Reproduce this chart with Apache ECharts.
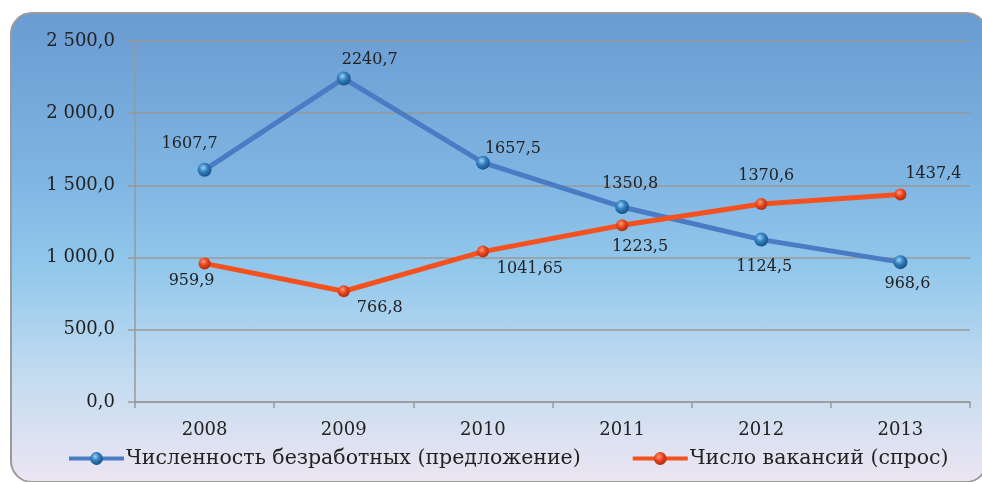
<!DOCTYPE html>
<html>
<head>
<meta charset="utf-8">
<script src="https://cdn.jsdelivr.net/npm/echarts@6/dist/echarts.min.js"></script>
<style>
  html, body { margin: 0; padding: 0; background: #fff; }
  #panel {
    position: absolute; left: 10px; top: 12px; width: 974px; height: 467px;
    border: 2px solid #9a9a9a; border-radius: 22px;
    background: linear-gradient(to bottom, #6a9bd2 0%, #7fb5e2 35%, #93c8ec 55%, #c4dcf0 78%, #ece5f2 100%);
  }
  #chart { position: absolute; left: 0; top: 0; width: 982px; height: 482px; }
</style>
</head>
<body>
<div id="panel"></div>
<div id="chart"></div>
<script>
const years = ['2008', '2009', '2010', '2011', '2012', '2013'];
const unemployed = [1607.7, 2240.7, 1657.5, 1350.8, 1124.5, 968.6];
const vacancies = [959.9, 766.8, 1041.65, 1223.5, 1370.6, 1437.4];
const unemployedName = 'Численность безработных (предложение)';
const vacanciesName = 'Число вакансий (спрос)';
// label offsets from the point (px)
const unemployedOffsets = [[-15, -26], [26, -19], [30, -14], [8, -23], [3, 27], [7, 22]];
const vacanciesOffsets = [[-13, 17], [36, 17], [47, 17], [18, 22], [5, -28], [33, -21]];

const fontFamily = '"DejaVu Serif", serif';

function commaNum(v) {
  return String(v).replace('.', ',');
}
function axisNum(v) {
  const s = Math.round(v).toString().replace(/\B(?=(\d{3})+(?!\d))/g, ' ');
  return s + ',0';
}

function withLabels(values, offsets) {
  return values.map((v, i) => ({
    value: v,
    label: { offset: offsets[i] }
  }));
}

const chart = echarts.init(document.getElementById('chart'));
chart.setOption({
  backgroundColor: 'transparent',
  animation: false,
  textStyle: { fontFamily: fontFamily, color: '#222' },
  grid: { left: 135, right: 12, top: 41, bottom: 80 },
  legend: {
    bottom: 8,
    left: 62,
    itemGap: 50,
    itemWidth: 55,
    itemHeight: 16,
    lineStyle: { width: 4 },
    textStyle: { fontFamily: fontFamily, fontSize: 20.5, color: '#222', padding: [0, 0, 0, -3] },
    data: [unemployedName, vacanciesName]
  },
  xAxis: {
    type: 'category',
    data: years,
    boundaryGap: true,
    axisLine: { lineStyle: { color: '#999', width: 1.5 } },
    axisTick: { show: true, length: 6, lineStyle: { color: '#999', width: 1.5 } },
    axisLabel: { fontFamily: fontFamily, fontSize: 18, color: '#222', margin: 19 }
  },
  yAxis: {
    type: 'value',
    min: 0,
    max: 2500,
    interval: 500,
    axisLine: { show: true, lineStyle: { color: '#999', width: 1.5 } },
    axisTick: { show: true, length: 7, lineStyle: { color: '#999', width: 1.5 } },
    splitLine: { lineStyle: { color: '#999', width: 1.5 } },
    axisLabel: { fontFamily: fontFamily, fontSize: 18, color: '#222', margin: 20, formatter: axisNum }
  },
  series: [
    {
      name: unemployedName,
      type: 'line',
      data: withLabels(unemployed, unemployedOffsets),
      symbol: 'circle',
      symbolSize: 14,
      lineStyle: { color: '#4a7cc6', width: 5 },
      itemStyle: {
        color: {
          type: 'radial', x: 0.4, y: 0.35, r: 0.7,
          colorStops: [
            { offset: 0, color: '#9fd0f5' },
            { offset: 0.45, color: '#2f7fc0' },
            { offset: 1, color: '#17497e' }
          ]
        },
        borderWidth: 0
      },
      label: {
        show: true,
        position: 'inside',
        fontFamily: fontFamily,
        fontSize: 16,
        color: '#222',
        formatter: p => commaNum(p.value)
      },
      z: 3
    },
    {
      name: vacanciesName,
      type: 'line',
      data: withLabels(vacancies, vacanciesOffsets),
      symbol: 'circle',
      symbolSize: 12,
      lineStyle: { color: '#f4511f', width: 5 },
      itemStyle: {
        color: {
          type: 'radial', x: 0.4, y: 0.35, r: 0.7,
          colorStops: [
            { offset: 0, color: '#ff9a7a' },
            { offset: 0.5, color: '#e8401a' },
            { offset: 1, color: '#a82a0e' }
          ]
        },
        borderWidth: 0
      },
      label: {
        show: true,
        position: 'inside',
        fontFamily: fontFamily,
        fontSize: 16,
        color: '#222',
        formatter: p => commaNum(p.value)
      },
      z: 4
    }
  ]
});
</script>
</body>
</html>
